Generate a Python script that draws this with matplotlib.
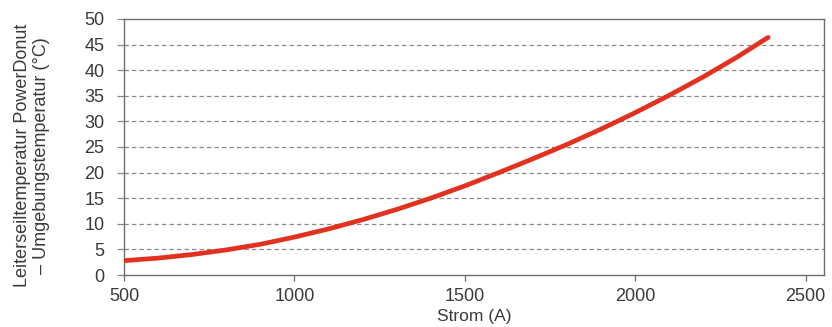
import matplotlib
matplotlib.use("Agg")
import matplotlib.pyplot as plt
import numpy as np

# Leiterseiltemperatur über Umgebungstemperatur in Abhängigkeit vom Strom
strom_a = [500, 600, 700, 800, 900, 1000, 1100, 1200, 1300, 1400, 1500,
           1600, 1700, 1800, 1900, 2000, 2100, 2200, 2300, 2390]
delta_t = [2.8, 3.3, 4.0, 4.9, 6.0, 7.4, 9.0, 10.8, 12.8, 15.0, 17.4,
           20.0, 22.7, 25.5, 28.5, 31.7, 35.1, 38.7, 42.6, 46.4]

x_ticks = [500, 1000, 1500, 2000, 2500]
y_ticks = [0, 5, 10, 15, 20, 25, 30, 35, 40, 45, 50]

plt.rcParams['font.family'] = ['Liberation Sans', 'DejaVu Sans']
text_col = '#3a3a3a'
axis_col = '#6e6e6e'

fig = plt.figure(figsize=(8.32, 3.27), dpi=100)
ax = fig.add_axes([0.149, 0.159, 0.841, 0.783])

ax.plot(strom_a, delta_t, color='#e2321f', lw=3.4, solid_capstyle='round', zorder=3)

ax.set_xlim(500, 2553)
ax.set_ylim(0, 50)
ax.set_xticks(x_ticks)
ax.set_yticks(y_ticks)

for y in y_ticks[1:-1]:
    ax.axhline(y, color='#8a8a8a', lw=0.9, ls=(0, (3.5, 2.5)), zorder=1)

for s in ax.spines.values():
    s.set_color(axis_col)
    s.set_linewidth(1.0)

ax.tick_params(axis='x', length=4, width=0.9, color=axis_col, labelsize=13,
               labelcolor=text_col, pad=5)
ax.tick_params(axis='y', length=5, width=0.9, color='#8a8a8a', labelsize=13,
               labelcolor=text_col, pad=9)

ax.set_xlabel('Strom (A)', fontsize=12.5, color=text_col, labelpad=3)
fig.text(0.039, 0.525, 'Leiterseiltemperatur PowerDonut\n\u2013 Umgebungstemperatur (°C)',
         rotation=90, ha='center', va='center', fontsize=13, color=text_col,
         linespacing=1.15, multialignment='center')

fig.savefig('out.png', dpi=100, facecolor='white')
